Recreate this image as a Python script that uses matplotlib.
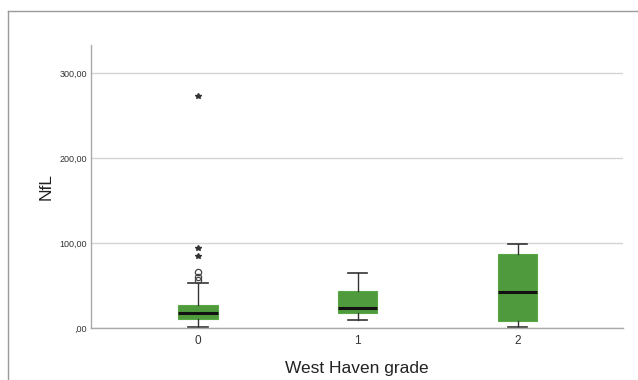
import matplotlib.pyplot as plt
from matplotlib.lines import Line2D

# NfL by West Haven grade - box summaries
grades = ['0', '1', '2']
q1 = [11.0, 18.0, 8.6]
medians = [18.0, 23.0, 42.7]
q3 = [27.0, 43.5, 86.7]
whis_lo = [1.5, 10.0, 1.0]
whis_hi = [53.0, 65.0, 98.5]
outliers = [[57.0, 60.0, 66.0], [], []]      # circles
extremes = [[85.0, 94.0, 273.0], [], []]     # stars

plt.rcParams['font.family'] = ['Liberation Sans', 'DejaVu Sans']

fig = plt.figure(figsize=(6.38, 3.8), dpi=100)
ax = fig.add_axes([0.1426, 0.1368, 0.8339, 0.7448])

stats = []
for i in range(len(grades)):
    stats.append({'med': medians[i], 'q1': q1[i], 'q3': q3[i],
                  'whislo': whis_lo[i], 'whishi': whis_hi[i],
                  'fliers': outliers[i], 'label': grades[i]})

pos = list(range(len(grades)))
ax.bxp(stats, positions=pos, widths=0.245, patch_artist=True,
       showfliers=True,
       boxprops=dict(facecolor='#4f9a3c', edgecolor='#5aa845', linewidth=0.8),
       medianprops=dict(color='#111111', linewidth=2.2),
       whiskerprops=dict(color='#333333', linewidth=1.0),
       capprops=dict(color='#333333', linewidth=1.2),
       capwidths=0.12,
       flierprops=dict(marker='o', markerfacecolor='none', markeredgecolor='#444444',
                       markersize=4.5, markeredgewidth=0.9))

for i, vals in enumerate(extremes):
    if vals:
        ax.plot([pos[i]] * len(vals), vals, linestyle='none', marker='*',
                color='#333333', markersize=4.0, zorder=4)

ax.set_xlim(-0.67, 2.66)
ax.set_ylim(0, 333)
ax.set_yticks([0, 100, 200, 300])
ax.set_yticklabels([',00', '100,00', '200,00', '300,00'], fontsize=6.5, color='#333333')
ax.set_xticks(pos)
ax.set_xticklabels(grades, fontsize=8.5, color='#333333')
ax.tick_params(axis='y', length=0, pad=3)
ax.tick_params(axis='x', length=0, pad=5)
ax.yaxis.grid(True, color='#d4d4d4', linewidth=1.0)
ax.set_axisbelow(True)

for s in ['top', 'right']:
    ax.spines[s].set_visible(False)
for s in ['left', 'bottom']:
    ax.spines[s].set_color('#aaaaaa')
    ax.spines[s].set_linewidth(1.0)

ax.set_ylabel('NfL', fontsize=12.5, color='#222222', labelpad=4)
ax.set_xlabel('West Haven grade', fontsize=12.5, color='#222222', labelpad=10)

# outer frame
fig.add_artist(Line2D([8 / 638, 8 / 638], [0, 1 - 11 / 380], transform=fig.transFigure,
                      color='#9a9a9a', linewidth=1.0))
fig.add_artist(Line2D([8 / 638, 1], [1 - 11 / 380, 1 - 11 / 380], transform=fig.transFigure,
                      color='#9a9a9a', linewidth=1.0))

fig.savefig('out.png', dpi=100)
